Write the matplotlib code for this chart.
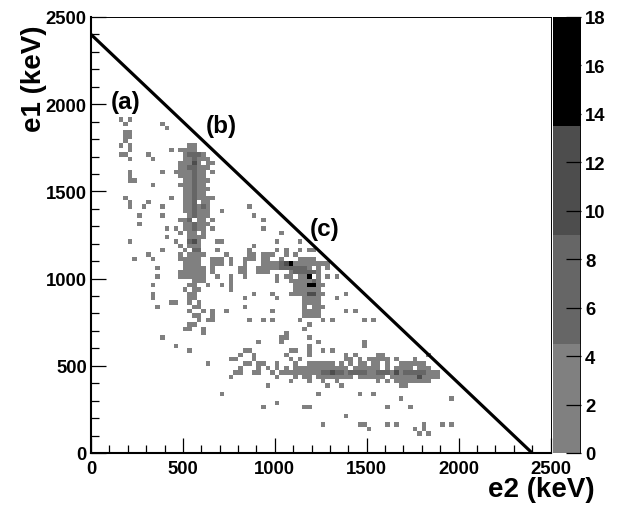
"""Energy correlation e1 vs e2 with coarse grey palette."""

import matplotlib

matplotlib.use("Agg")
import matplotlib.pyplot as plt
import numpy as np
from matplotlib.colors import BoundaryNorm, ListedColormap
from matplotlib.ticker import MultipleLocator

plt.rcParams["font.family"] = ["Liberation Sans", "DejaVu Sans"]
plt.rcParams["font.weight"] = "bold"

bin_width = 25
n_bins = 100
kinematic_limit = 2400

colour_levels = [0, 4.5, 9, 13.5, 18]
colour_greys = ["#808080", "#666666", "#4d4d4d", "#000000"]
colourbar_ticks = [0, 2, 4, 6, 8, 10, 12, 14, 16, 18]
axis_ticks = [0, 500, 1000, 1500, 2000, 2500]

# occupied e2 bins for each e1 bin, lowest colour level
light_rows = {
    76: [6, 8], 75: [7, 15], 74: [16], 73: [7, 8], 72: [7, 8], 71: [7],
    70: [6, 8, 21, 22], 69: [8, 17, 19, 20, 21, 22], 68: [6, 7, 12, 20, 24],
    67: [8, 13, 20, 21, 23, 24, 25], 66: [19, 20, 21, 23, 25, 26],
    65: [19, 20, 23, 24, 25], 64: [8, 15, 18, 19, 20, 21, 23, 24, 26], 63: [8, 19, 20, 21, 23, 24],
    62: [8, 9, 20, 21, 23, 24, 25], 61: [13, 19, 20, 21, 23, 24], 60: [20, 21, 23, 24, 25],
    59: [20, 21, 23, 24], 58: [7, 17, 20, 21, 23, 24, 25, 26], 57: [8, 12, 20, 21, 24, 25],
    56: [8, 11, 15, 20, 21, 23, 25, 34], 55: [20, 21, 23, 24, 25, 28],
    54: [10, 15, 21, 23, 24, 25, 35], 53: [19, 20, 21, 23, 24, 26, 37], 52: [10, 20, 21, 23, 24, 25],
    51: [16, 18, 20, 21, 23, 24, 26, 37], 50: [19, 21, 22, 24, 41], 49: [16, 21, 22, 23, 24],
    48: [8, 18, 23, 27, 28, 40, 45], 47: [19, 21, 22, 23, 35],
    46: [15, 20, 27, 34, 40, 42, 45, 47, 48], 45: [12, 19, 21, 22, 23, 24, 29, 34, 35, 37, 38, 39, 42, 44],
    44: [9, 13, 19, 20, 21, 22, 23, 26, 27, 28, 30, 33, 34, 35, 37, 38, 41, 45, 46, 47, 48],
    43: [20, 21, 22, 23, 26, 27, 28, 30, 33, 37, 38, 39, 40, 44, 45, 46, 47, 48, 49, 50, 51],
    42: [14, 20, 21, 22, 23, 24, 26, 32, 33, 36, 37, 38, 39, 40, 47, 49, 51],
    41: [19, 20, 21, 22, 23, 24, 26, 32, 33, 36, 37, 38, 43, 45, 49],
    40: [14, 19, 20, 21, 22, 23, 24, 27, 30, 33, 40, 42, 43, 45, 46, 49, 51, 53],
    39: [22, 23, 24, 30, 40, 43, 44, 45, 46, 47, 49],
    38: [13, 21, 22, 25, 28, 30, 44, 45, 46, 49, 50], 37: [20, 22, 23, 30, 44, 45, 46, 47, 48, 49],
    36: [13, 21, 22, 35, 39, 43, 44, 45, 46, 49, 50, 55], 35: [13, 21, 22, 33, 40, 46, 47, 48, 49, 53],
    34: [17, 18, 21, 23, 46, 47, 48, 49], 33: [14, 22, 23, 33, 46, 48, 49, 50],
    32: [21, 24, 26, 29, 39, 46, 47, 48, 49, 55, 57], 31: [22, 23, 26, 46, 47, 48, 49],
    30: [23, 25, 26, 34, 37, 39, 45, 50, 52, 59, 61], 29: [21, 22, 47], 28: [20, 21, 24, 46],
    27: [24, 42], 26: [15, 41, 42, 47], 25: [36, 41, 49, 59], 24: [18, 47, 59],
    23: [21, 33, 34, 43, 44, 47, 50, 52],
    22: [32, 35, 42, 47, 55, 57, 62, 63, 73],
    21: [30, 31, 35, 43, 45, 55, 56, 58, 60, 61, 62, 63, 64, 66, 70],
    20: [25, 33, 34, 36, 37, 40, 44, 47, 48, 49, 50, 51, 52, 54, 56, 58, 59, 61, 62, 64, 67, 68, 69, 70, 71, 72],
    19: [32, 36, 38, 40, 42, 44, 45, 46, 47, 48, 49, 50, 51, 52, 53, 54, 55, 57, 58, 59, 60, 61, 62, 64, 66, 67, 68, 69, 71, 72, 73],
    18: [31, 32, 35, 36, 39, 41, 42, 43, 44, 45, 46, 47, 48, 49, 55, 60, 61, 65, 67, 73, 74, 75],
    17: [30, 40, 44, 46, 47, 49, 50, 51, 52, 53, 54, 55, 56, 58, 59, 60, 61, 62, 63, 65, 66, 67, 68, 69, 70, 72, 73, 74, 75],
    16: [43, 47, 50, 53, 62, 64, 66, 67, 68, 69, 70, 71, 72, 73],
    15: [38, 51, 54, 67, 68], 13: [28, 49, 58, 61], 12: [67, 78], 11: [40],
    10: [37, 46, 47, 64, 69], 8: [55], 6: [50, 58, 59, 64, 66, 72, 76, 78],
    5: [60, 70, 72], 4: [71, 73],
}

# cells in the second colour level
mid_e2 = [21, 22, 23, 22, 21, 22, 22, 22, 22, 22, 22, 22, 22, 24, 22, 22, 22, 22, 22, 22, 21, 21, 22, 23, 41, 42, 41, 42, 43, 44, 45, 46, 44, 45, 46, 47, 48, 48, 50, 51, 52, 53, 54, 56, 57, 58, 59, 62, 63, 64, 68, 69, 70, 71, 72]
mid_e1 = [68, 68, 68, 67, 65, 65, 64, 63, 62, 61, 60, 59, 58, 56, 56, 57, 55, 54, 52, 51, 53, 48, 46, 46, 43, 43, 42, 42, 42, 42, 42, 42, 41, 41, 41, 41, 41, 39, 18, 18, 18, 18, 18, 18, 18, 18, 18, 18, 18, 18, 18, 18, 18, 18, 18]

# cells in the third colour level
dark_e2 = [22, 22, 42, 47, 48, 52, 66, 71]
dark_e1 = [66, 48, 43, 36, 36, 18, 18, 17]

# cells in the top colour level
peak_e2 = [43, 47, 47, 48]
peak_e1 = [43, 40, 38, 38]

light_count = 2
mid_count = 6
dark_count = 11
peak_count = 16


def fill_counts() -> np.ndarray:
    counts = np.zeros((n_bins, n_bins))
    for e1_bin, e2_bins in light_rows.items():
        counts[e1_bin, e2_bins] = light_count
    counts[mid_e1, mid_e2] = mid_count
    counts[dark_e1, dark_e2] = dark_count
    counts[peak_e1, peak_e2] = peak_count
    return np.ma.masked_equal(counts, 0)


def main() -> None:
    fig = plt.figure(figsize=(6.18, 5.06), dpi=100)
    ax = fig.add_axes([91 / 618, 1 - 454 / 506, 459.5 / 618, 436 / 506])
    cax = fig.add_axes([553 / 618, 1 - 454 / 506, 28 / 618, 436 / 506])

    edges = np.arange(n_bins + 1) * bin_width
    cmap = ListedColormap(colour_greys)
    norm = BoundaryNorm(colour_levels, cmap.N)
    mesh = ax.pcolormesh(edges, edges, fill_counts(), cmap=cmap, norm=norm, linewidth=0, rasterized=True)

    ax.plot([0, kinematic_limit], [kinematic_limit, 0], color="k", linewidth=2.3, solid_capstyle="butt")

    ax.set_xlim(0, 2500)
    ax.set_ylim(0, 2500)
    ax.set_xticks(axis_ticks)
    ax.set_yticks(axis_ticks)
    ax.xaxis.set_minor_locator(MultipleLocator(100))
    ax.yaxis.set_minor_locator(MultipleLocator(100))
    ax.tick_params(which="major", direction="in", length=11, width=0.9, labelsize=13.3)
    ax.tick_params(which="minor", direction="in", length=5.5, width=0.9)
    ax.tick_params(axis="x", which="major", pad=5)
    ax.tick_params(axis="y", which="major", pad=3)
    ax.spines["left"].set_linewidth(1.5)
    ax.spines["bottom"].set_linewidth(1.5)
    ax.spines["top"].set_linewidth(0.7)
    ax.spines["right"].set_linewidth(0.7)

    cbar = fig.colorbar(mesh, cax=cax, ticks=colourbar_ticks, spacing="proportional")
    cbar.outline.set_visible(False)
    cbar.ax.tick_params(direction="in", length=11, width=0.9, labelsize=13.3, pad=3)
    cbar.ax.minorticks_off()
    cbar.ax.axvline(cbar.ax.get_xlim()[1], color="k", linewidth=1.2)

    ax.text(190, 2015, "(a)", fontsize=17.5, ha="center", va="center")
    ax.text(710, 1875, "(b)", fontsize=17.5, ha="center", va="center")
    ax.text(1270, 1290, "(c)", fontsize=17.5, ha="center", va="center")

    fig.text(595 / 618, 1 - 490 / 506, "e2 (keV)", fontsize=20, ha="right", va="center")
    fig.text(34 / 618, 1 - 25 / 506, "e1 (keV)", fontsize=20, rotation=90, ha="center", va="top")

    fig.savefig("out.png", dpi=100)
    plt.close(fig)


if __name__ == "__main__":
    main()
